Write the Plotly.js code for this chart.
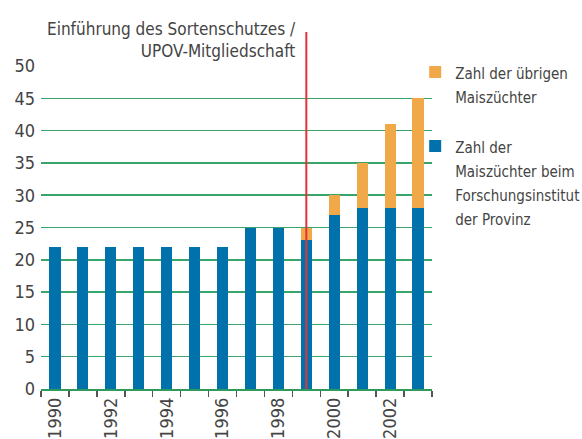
<!DOCTYPE html>
<html>
<head>
<meta charset="utf-8">
<script src="https://cdn.plot.ly/plotly-3.0.1.min.js"></script>
<style>html,body{margin:0;padding:0;background:#fff;}#chart{width:582px;height:439px;}</style>
</head>
<body>
<div id="chart"></div>
<script>
var years = [1990,1991,1992,1993,1994,1995,1996,1997,1998,1999,2000,2001,2002,2003];
var institute = [22,22,22,22,22,22,22,25,25,23,27,28,28,28];
var others = [0,0,0,0,0,0,0,0,0,2,3,7,13,17];
var labelYears = [1990,1992,1994,1996,1998,2000,2002];
var labelText = ["1990","1992","1994","1996","1998","2000","2002"];
var yTicks = [0,5,10,15,20,25,30,35,40,45,50];
var markerYear = 1999;
var nameInstitute = ["Zahl der", "Maiszüchter beim", "Forschungsinstitut", "der Provinz"];
var nameOthers = ["Zahl der übrigen", "Maiszüchter"];

var FONT = "'DejaVu Sans Condensed', 'DejaVu Sans', sans-serif";
var TXT = "#444444";

function legendName(lines) {
  return lines.map(function (s) { return '<span style="font-size:15px">' + s + '</span>'; }).join('<br>');
}

var traces = [
  {type:'bar', x:years, y:institute, name:legendName(nameInstitute),
   marker:{color:'#0071ab'}, legendgroup:'a', legendrank:2, hoverinfo:'skip'},
  {type:'bar', x:years, y:others, name:legendName(nameOthers),
   marker:{color:'#f0a848'}, legendgroup:'b', legendrank:1, hoverinfo:'skip'}
];

var layout = {
  width:582, height:439,
  margin:{l:41, r:150, t:66, b:50, autoexpand:false},
  paper_bgcolor:'#fff', plot_bgcolor:'#fff',
  barmode:'stack', bargap:0.6,
  showlegend:true,
  legend:{x:0.957, y:1.039, xanchor:'left', yanchor:'top', traceorder:'grouped', valign:'top',
          bgcolor:'rgba(0,0,0,0)',
          font:{family:FONT, size:18.5, color:TXT}, tracegroupgap:23, itemwidth:30},
  font:{family:FONT, color:TXT},
  xaxis:{range:[1989.5,2003.5], tickmode:'array', tickvals:labelYears, ticktext:labelText,
         ticks:'', tickangle:-90, tickfont:{family:FONT, size:18, color:TXT},
         showgrid:false, zeroline:false, showline:true, linecolor:'#2e9a5c', linewidth:1.5,
         minor:{tick0:1989.5, dtick:1, ticks:'outside', ticklen:6, tickwidth:1.5, tickcolor:'#555', showgrid:false}},
  yaxis:{range:[0,50], tickmode:'array', tickvals:yTicks, ticks:'', ticklabelstandoff:5,
         tickfont:{family:FONT, size:18, color:TXT}, showgrid:true, gridcolor:'#3aa56b', gridwidth:1.5,
         zeroline:false, showline:false},
  shapes:[{type:'line', xref:'x', yref:'paper', x0:markerYear, x1:markerYear, y0:0, y1:1.105,
           line:{color:'#e33338', width:2}}],
  annotations:[{xref:'paper', yref:'paper', x:0.657, y:1.01, xanchor:'right', yanchor:'bottom', align:'right',
                showarrow:false, text:'Einführung des Sortenschutzes /<br>UPOV-Mitgliedschaft',
                font:{family:FONT, size:17, color:TXT}}]
};

Plotly.newPlot('chart', traces, layout, {displayModeBar:false, staticPlot:true});
</script>
</body>
</html>
